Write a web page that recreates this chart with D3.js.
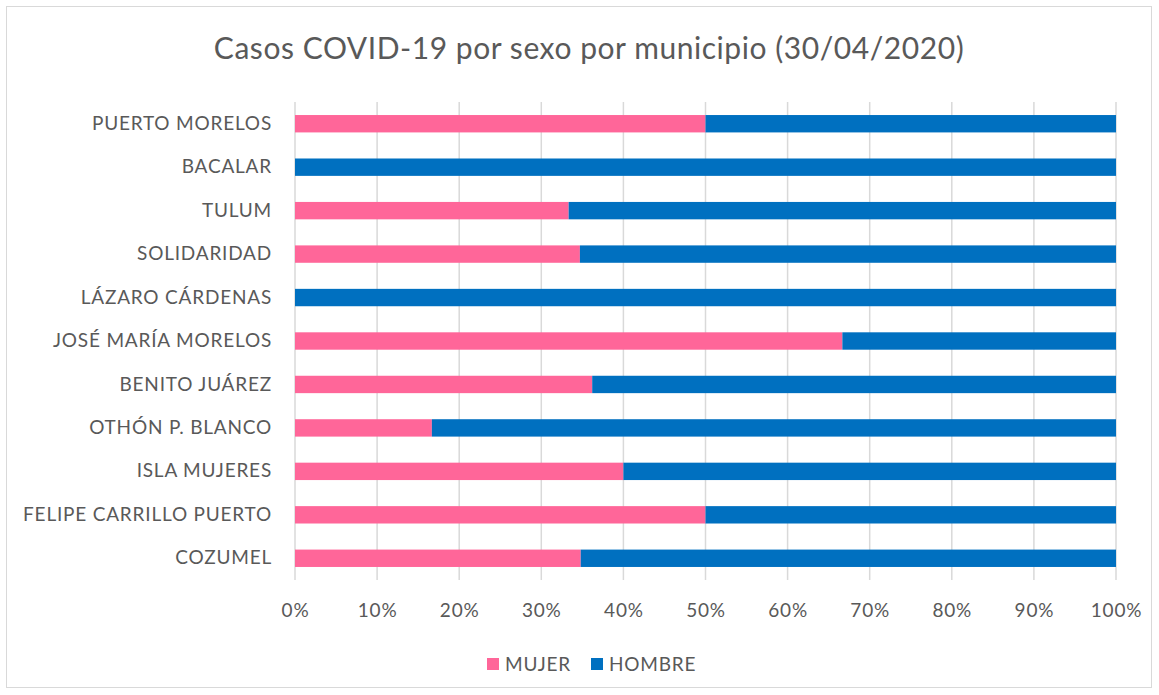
<!DOCTYPE html>
<html><head><meta charset="utf-8">
<script src="https://cdn.jsdelivr.net/npm/d3@7"></script>
<style>
body{margin:0;background:#fff;}
svg text{font-family:Lato,"Open Sans",sans-serif;fill:#595959;}
</style></head>
<body><svg id="c" width="1159" height="695"></svg>
<script>
const categories = ["PUERTO MORELOS","BACALAR","TULUM","SOLIDARIDAD","LÁZARO CÁRDENAS","JOSÉ MARÍA MORELOS","BENITO JUÁREZ","OTHÓN P. BLANCO","ISLA MUJERES","FELIPE CARRILLO PUERTO","COZUMEL"];
const mujer = [0.5, 0, 0.3333, 0.347, 0, 0.6667, 0.362, 0.1667, 0.4, 0.5, 0.348];
const hombre = mujer.map(v => 1 - v);
const seriesNames = ["MUJER","HOMBRE"];
const seriesColors = ["#FF6699","#0070C0"];
const tickValues = [0,0.1,0.2,0.3,0.4,0.5,0.6,0.7,0.8,0.9,1.0];
const title = "Casos COVID-19 por sexo por municipio (30/04/2020)";

const FONT = "Lato,'Open Sans',sans-serif";
const svg = d3.select("#c");
svg.append("rect").attr("x",6.5).attr("y",6.5).attr("width",1145).attr("height",681)
  .attr("fill","#fff").attr("stroke","#d9d9d9").attr("stroke-width",1);

const m = {left:295, right:1116, top:102, bottom:580};
const x = d3.scaleLinear().domain([0,1]).range([m.left, m.right]);
const y = d3.scaleBand().domain(categories).range([m.top, m.bottom]).paddingInner(0.6).paddingOuter(0.3);

svg.append("g").selectAll("line").data(tickValues).join("line")
  .attr("x1",d=>x(d)).attr("x2",d=>x(d)).attr("y1",m.top).attr("y2",m.bottom)
  .attr("stroke","#d9d9d9").attr("stroke-width",1.5);

const data = categories.map((c,i)=>({cat:c, MUJER:mujer[i], HOMBRE:hombre[i]}));
const stack = d3.stack().keys(seriesNames)(data);
svg.append("g").selectAll("g").data(stack).join("g")
  .attr("fill",(d,i)=>seriesColors[i])
  .selectAll("rect").data(d=>d).join("rect")
  .attr("x",d=>x(d[0])).attr("width",d=>x(d[1])-x(d[0]))
  .attr("y",d=>y(d.data.cat)).attr("height",y.bandwidth());

const xa = svg.append("g").attr("transform",`translate(0,${m.bottom})`)
  .call(d3.axisBottom(x).tickValues(tickValues).tickFormat(d3.format(".0%")).tickSize(0).tickPadding(24));
xa.select(".domain").remove();
xa.selectAll("text").style("font-size","19px").style("font-family",FONT).style("letter-spacing","0.8px").attr("fill","#595959");

const ya = svg.append("g").attr("transform",`translate(${m.left},0)`)
  .call(d3.axisLeft(y).tickSize(0).tickPadding(23));
ya.select(".domain").remove();
ya.selectAll("text").style("font-size","19px").style("font-family",FONT).style("letter-spacing","0.8px").attr("fill","#595959");

svg.append("text").attr("x",589).attr("y",59).attr("text-anchor","middle")
  .style("font-size","30px").style("letter-spacing","0.55px").text(title);

const lx = [487, 591];
const lg = svg.append("g");
seriesNames.forEach((s,i)=>{
  lg.append("rect").attr("x",lx[i]).attr("y",658).attr("width",12).attr("height",12).attr("fill",seriesColors[i]);
  lg.append("text").attr("x",lx[i]+18).attr("y",671).style("font-size","19px").style("letter-spacing","0.8px").text(s);
});
</script></body></html>
